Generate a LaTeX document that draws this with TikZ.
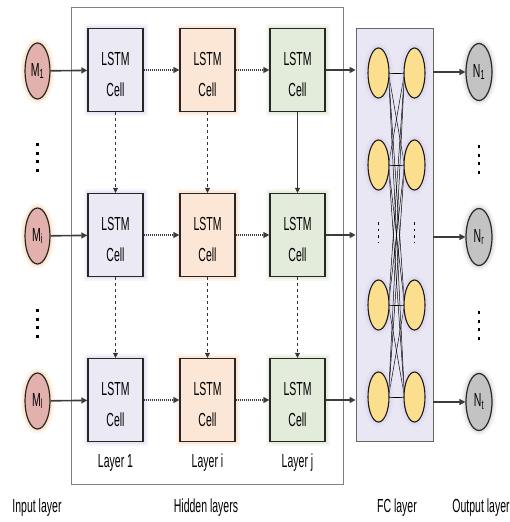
\documentclass[tikz,border=0pt]{standalone}
\usepackage{fontspec}
\usepackage{graphicx}
\setmainfont{Liberation Sans}
\usetikzlibrary{arrows.meta,shapes.geometric}

% narrow, tall lettering
\newcommand\tl[1]{\scalebox{1}[1.8]{#1}}
\newcommand\lblfont{\fontsize{10.5}{31}\selectfont}

\definecolor{inpfill}{HTML}{E2B0AD}
\definecolor{inpglow}{HTML}{F7C98E}
\definecolor{cellA}{HTML}{EAE9F4}
\definecolor{cellAglow}{HTML}{C9C6E6}
\definecolor{cellB}{HTML}{FCE6D6}
\definecolor{cellBglow}{HTML}{F6C9A2}
\definecolor{cellC}{HTML}{E3EBDA}
\definecolor{cellCglow}{HTML}{C5DBB0}
\definecolor{fcfill}{HTML}{E9E7F3}
\definecolor{neuron}{HTML}{FBDF8E}
\definecolor{neuronglow}{HTML}{CFC6EC}
\definecolor{outfill}{HTML}{C3C3C3}
\definecolor{wire}{HTML}{3C3C3C}

\tikzset{
  glow/.style={preaction={draw=#1,line width=9pt,draw opacity=0.18},
               preaction={draw=#1,line width=5pt,draw opacity=0.28}},
  inp/.style={ellipse, draw=black!85, line width=1.2pt, fill=inpfill, glow=inpglow,
              minimum width=25pt, minimum height=56pt, inner sep=0pt, font=\lblfont},
  outp/.style={ellipse, draw=black!85, line width=1.2pt, fill=outfill, glow=black!25,
              minimum width=26pt, minimum height=57pt, inner sep=0pt, font=\lblfont},
  cellbox/.style={draw=black!85, line width=1.4pt, minimum width=55pt, minimum height=83pt,
              inner sep=0pt,
              label={[font=\lblfont, align=center, yshift=-4pt]center:{\tl{LSTM}\\\tl{Cell}}}},
  neuronnode/.style={ellipse, draw=black!90, line width=1.1pt, fill=neuron, glow=neuronglow,
              minimum width=21pt, minimum height=50pt, inner sep=0pt},
  feed/.style={draw=wire, line width=1.6pt, -{Triangle[length=6pt,width=6pt]}},
  recur/.style={draw=wire, line width=2pt, dash pattern=on 1.1pt off 0.9pt,
              -{Triangle[length=6pt,width=6pt]}},
  down/.style={draw=black!80, line width=0.6pt, dashed, -{Triangle[length=5pt,width=5pt]}},
  downsolid/.style={draw=black!80, line width=0.6pt, -{Triangle[length=5pt,width=5pt]}},
  mesh/.style={draw=black, line width=0.5pt},
  caption/.style={font=\lblfont, inner sep=0pt},
  dots/.style={draw=black, line width=2.4pt, dash pattern=on 3pt off 5.5pt},
  smalldots/.style={draw=black, line width=1.8pt, dash pattern=on 2.5pt off 4pt},
}

\begin{document}
\begin{tikzpicture}[x=1pt,y=-1pt]
  \useasboundingbox[fill=white] (0,0) rectangle (510,522);

  % frames for the hidden stack and the fully connected block
  \node[draw=black!50, line width=0.7pt, minimum width=272pt, minimum height=477pt, inner sep=0pt]
    (hidden) at (207,245.5) {};
  \node[draw=black!60, line width=0.8pt, fill=fcfill, minimum width=77pt, minimum height=413pt,
        inner sep=0pt] (fc) at (394.5,234.5) {};

  % input units
  \node[inp] (m1) at (37.5,71)  {\tl{M\textsubscript{1}}};
  \node[inp] (m2) at (37.5,236) {\tl{M\textsubscript{i}}};
  \node[inp] (m3) at (37.5,401) {\tl{M\textsubscript{l}}};
  \draw[dots] (37.5,143) -- (37.5,172);
  \draw[dots] (37.5,309) -- (37.5,338);

  % LSTM cells: columns are layers, rows are time steps
  \foreach \r/\y in {1/70,2/235,3/400}{
    \node[cellbox, fill=cellA, glow=cellAglow] (a\r) at (115.5,\y) {};
    \node[cellbox, fill=cellB, glow=cellBglow] (b\r) at (207.5,\y) {};
    \node[cellbox, fill=cellC, glow=cellCglow] (c\r) at (297.5,\y) {};
  }

  \node[caption] (la) at (115.5,463) {\tl{Layer 1}};
  \node[caption] (lb) at (207.5,463) {\tl{Layer i}};
  \node[caption] (lc) at (297.5,463) {\tl{Layer j}};

  % fully connected neurons
  \foreach \k/\y in {1/73,2/165,3/305,4/397}{
    \coordinate (pl\k) at (378.5,\y);
    \coordinate (pr\k) at (414.5,\y);
  }
  \foreach \i in {1,...,4}{
    \foreach \j in {1,...,4}{
      \draw[mesh] ([xshift=10pt]pl\i) -- ([xshift=-10pt]pr\j);
    }
  }
  \foreach \k in {1,...,4}{
    \node[neuronnode] (fl\k) at (pl\k) {};
    \node[neuronnode] (fr\k) at (pr\k) {};
  }
  \draw[smalldots] (378.5,222) -- (378.5,243);
  \draw[smalldots] (414.5,222) -- (414.5,243);

  % output units
  \node[outp] (n1) at (479,72)  {\tl{N\textsubscript{1}}};
  \node[outp] (n2) at (479,237) {\tl{N\textsubscript{r}}};
  \node[outp] (n3) at (479,402) {\tl{N\textsubscript{t}}};
  \draw[dots] (479,145) -- (479,174);
  \draw[dots] (479,311) -- (479,340);

  % connectors
  \foreach \r in {1,2,3}{
    \draw[feed] (m\r) -- (a\r);
    \draw[recur] (a\r) -- (b\r);
    \draw[recur] (b\r) -- (c\r);
    \draw[feed] (c\r.east) -- (c\r.east -| fc.west);
    \draw[feed] (n\r.west -| fc.east) -- (n\r);
  }
  \draw[down] (a1) -- (a2);
  \draw[down] (a2) -- (a3);
  \draw[down] (b1) -- (b2);
  \draw[down] (b2) -- (b3);
  \draw[downsolid] (c1) -- (c2);
  \draw[down] (c2) -- (c3);

  % captions along the bottom
  \node[caption] (cin)  at (37,508)  {\tl{Input layer}};
  \node[caption] (chid) at (206,508) {\tl{Hidden layers}};
  \node[caption] (cfc)  at (397,508) {\tl{FC layer}};
  \node[caption] (cout) at (481,508) {\tl{Output layer}};
\end{tikzpicture}
\end{document}
